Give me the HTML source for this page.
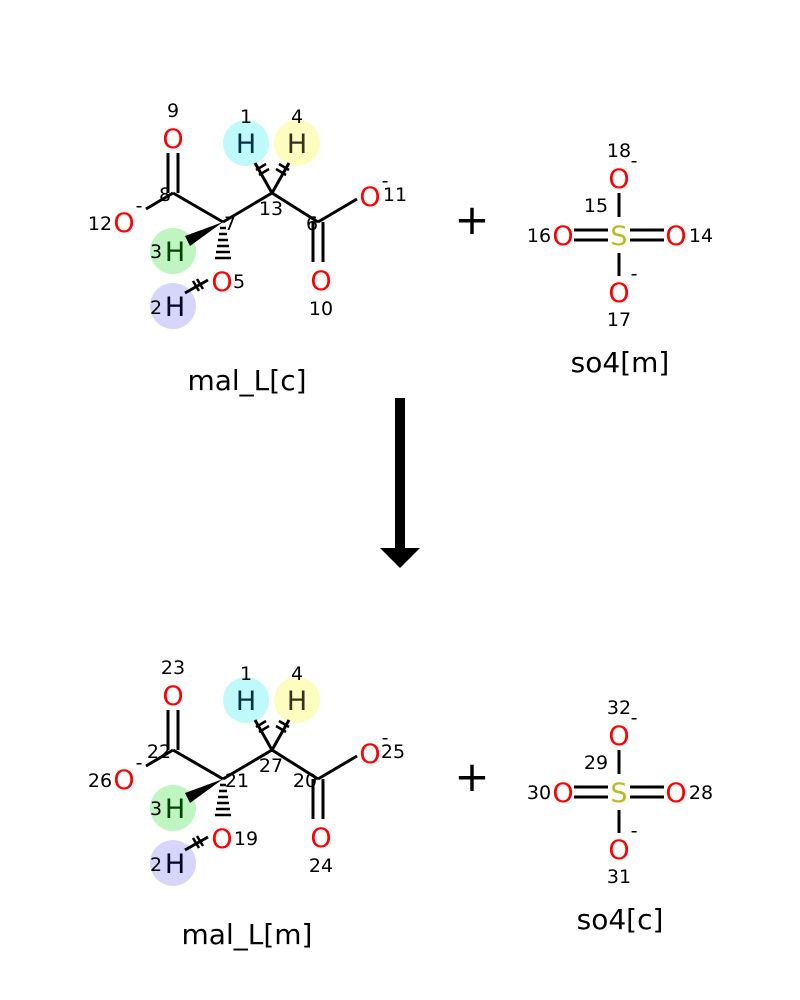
<!DOCTYPE html>
<html><head><meta charset="utf-8"><style>body{margin:0;background:#fff}svg{display:block}text{font-family:"DejaVu Sans","Liberation Sans",sans-serif}</style></head>
<body>
<svg width="800" height="1000" viewBox="0 0 800 1000" xmlns="http://www.w3.org/2000/svg">
<rect width="800" height="1000" fill="#fff"/>
<!-- TOP malate -->
<g>
<circle cx="246" cy="143" r="23" fill="#bff9fb"/>
<circle cx="297" cy="143" r="23" fill="#fdfdbf"/>
<circle cx="173" cy="251" r="23" fill="#bff5c0"/>
<circle cx="173" cy="306" r="23" fill="#d6d6fb"/>
<g stroke="#000" stroke-width="3" fill="none">
<line x1="173" y1="193" x2="223" y2="222"/>
<line x1="223" y1="222" x2="272" y2="193"/>
<line x1="272" y1="193" x2="318" y2="222"/>
<line x1="318" y1="222" x2="357" y2="199"/>
<line x1="168" y1="193" x2="168" y2="153"/><line x1="178" y1="193" x2="178" y2="153"/>
<line x1="313" y1="222" x2="313" y2="262"/><line x1="323" y1="222" x2="323" y2="262"/>
<line x1="173" y1="193" x2="146" y2="209"/>
<line x1="272" y1="193" x2="255" y2="163"/>
<line x1="272" y1="193" x2="289" y2="163"/>
<line x1="208" y1="280" x2="185" y2="293"/>
</g>
<g stroke="#000" stroke-width="2.5">
<line x1="256" y1="170" x2="266" y2="164"/><line x1="259" y1="175" x2="269" y2="169"/>
<line x1="279" y1="164" x2="289" y2="170"/><line x1="276" y1="169" x2="286" y2="175"/>
<line x1="193" y1="281" x2="199" y2="291"/><line x1="197" y1="279" x2="203" y2="289"/>
<line x1="220" y1="228" x2="226" y2="228"/><line x1="219" y1="234" x2="227" y2="234"/><line x1="218" y1="240" x2="228" y2="240"/><line x1="217" y1="246" x2="229" y2="246"/><line x1="216" y1="252" x2="230" y2="252"/><line x1="215" y1="258" x2="231" y2="258"/>
</g>
<polygon points="223,222 185,236 190,246" fill="#000"/>
<g font-size="27" fill="#f00" text-anchor="middle">
<text x="173" y="148">O</text><text x="124" y="232">O</text><text x="370" y="206">O</text><text x="321" y="290">O</text><text x="222" y="291">O</text>
</g>
<g font-size="27" text-anchor="middle">
<text x="246" y="153" fill="#034">H</text><text x="297" y="153" fill="#332">H</text><text x="175" y="261" fill="#040">H</text><text x="175" y="316" fill="#002">H</text>
</g>
<g font-size="19" fill="#000" text-anchor="middle">
<text x="173" y="117">9</text><text x="246" y="123">1</text><text x="297" y="123">4</text>
<text x="165" y="201">8</text><text x="230" y="230">7</text><text x="271" y="215">13</text><text x="312" y="230">6</text>
<text x="100" y="230">12</text><text x="395" y="201">11</text><text x="321" y="315">10</text><text x="239" y="288">5</text>
<text x="156" y="258">3</text><text x="156" y="314">2</text>
<text x="139" y="212">-</text><text x="385" y="187">-</text>
</g>
<text x="247" y="390" font-size="28" text-anchor="middle">mal_L[c]</text>
</g>
<!-- TOP so4 -->
<g>
<g stroke="#000" stroke-width="3">
<line x1="619" y1="193" x2="619" y2="217"/><line x1="619" y1="253" x2="619" y2="276"/>
<line x1="574" y1="230" x2="608" y2="230"/><line x1="574" y1="240" x2="608" y2="240"/>
<line x1="630" y1="230" x2="664" y2="230"/><line x1="630" y1="240" x2="664" y2="240"/>
</g>
<g font-size="27" text-anchor="middle" fill="#f00">
<text x="619" y="188">O</text><text x="619" y="302">O</text><text x="563" y="245">O</text><text x="676" y="245">O</text>
<text x="619" y="245" fill="#bb2">S</text>
</g>
<g font-size="19" text-anchor="middle">
<text x="619" y="157">18</text><text x="596" y="212">15</text><text x="539" y="242">16</text><text x="701" y="242">14</text><text x="619" y="326">17</text>
<text x="634" y="167">-</text><text x="634" y="280">-</text>
</g>
<text x="620" y="372" font-size="28" text-anchor="middle">so4[m]</text>
</g>
<text x="472" y="234" font-size="42" text-anchor="middle">+</text>
<!-- arrow -->
<rect x="395" y="398" width="10" height="152" fill="#000"/>
<polygon points="380,548 420,548 400,568" fill="#000"/>
<!-- BOTTOM malate -->
<g transform="translate(0,557)">
<circle cx="246" cy="143" r="23" fill="#bff9fb"/>
<circle cx="297" cy="143" r="23" fill="#fdfdbf"/>
<circle cx="173" cy="251" r="23" fill="#bff5c0"/>
<circle cx="173" cy="306" r="23" fill="#d6d6fb"/>
<g stroke="#000" stroke-width="3" fill="none">
<line x1="173" y1="193" x2="223" y2="222"/>
<line x1="223" y1="222" x2="272" y2="193"/>
<line x1="272" y1="193" x2="318" y2="222"/>
<line x1="318" y1="222" x2="357" y2="199"/>
<line x1="168" y1="193" x2="168" y2="153"/><line x1="178" y1="193" x2="178" y2="153"/>
<line x1="313" y1="222" x2="313" y2="262"/><line x1="323" y1="222" x2="323" y2="262"/>
<line x1="173" y1="193" x2="146" y2="209"/>
<line x1="272" y1="193" x2="255" y2="163"/>
<line x1="272" y1="193" x2="289" y2="163"/>
<line x1="208" y1="280" x2="185" y2="293"/>
</g>
<g stroke="#000" stroke-width="2.5">
<line x1="256" y1="170" x2="266" y2="164"/><line x1="259" y1="175" x2="269" y2="169"/>
<line x1="279" y1="164" x2="289" y2="170"/><line x1="276" y1="169" x2="286" y2="175"/>
<line x1="193" y1="281" x2="199" y2="291"/><line x1="197" y1="279" x2="203" y2="289"/>
<line x1="220" y1="228" x2="226" y2="228"/><line x1="219" y1="234" x2="227" y2="234"/><line x1="218" y1="240" x2="228" y2="240"/><line x1="217" y1="246" x2="229" y2="246"/><line x1="216" y1="252" x2="230" y2="252"/><line x1="215" y1="258" x2="231" y2="258"/>
</g>
<polygon points="223,222 185,236 190,246" fill="#000"/>
<g font-size="27" fill="#f00" text-anchor="middle">
<text x="173" y="148">O</text><text x="124" y="232">O</text><text x="370" y="206">O</text><text x="321" y="290">O</text><text x="222" y="291">O</text>
</g>
<g font-size="27" text-anchor="middle">
<text x="246" y="153" fill="#034">H</text><text x="297" y="153" fill="#332">H</text><text x="175" y="261" fill="#040">H</text><text x="175" y="316" fill="#002">H</text>
</g>
<g font-size="19" fill="#000" text-anchor="middle">
<text x="173" y="117">23</text><text x="246" y="123">1</text><text x="297" y="123">4</text>
<text x="159" y="201">22</text><text x="237" y="230">21</text><text x="271" y="215">27</text><text x="305" y="230">20</text>
<text x="100" y="230">26</text><text x="393" y="201">25</text><text x="321" y="315">24</text><text x="246" y="288">19</text>
<text x="156" y="258">3</text><text x="156" y="314">2</text>
<text x="139" y="212">-</text><text x="385" y="187">-</text>
</g>
<text x="247" y="387" font-size="28" text-anchor="middle">mal_L[m]</text>
</g>
<!-- BOTTOM so4 -->
<g transform="translate(0,557)">
<g stroke="#000" stroke-width="3">
<line x1="619" y1="193" x2="619" y2="217"/><line x1="619" y1="253" x2="619" y2="276"/>
<line x1="574" y1="230" x2="608" y2="230"/><line x1="574" y1="240" x2="608" y2="240"/>
<line x1="630" y1="230" x2="664" y2="230"/><line x1="630" y1="240" x2="664" y2="240"/>
</g>
<g font-size="27" text-anchor="middle" fill="#f00">
<text x="619" y="188">O</text><text x="619" y="302">O</text><text x="563" y="245">O</text><text x="676" y="245">O</text>
<text x="619" y="245" fill="#bb2">S</text>
</g>
<g font-size="19" text-anchor="middle">
<text x="619" y="157">32</text><text x="596" y="212">29</text><text x="539" y="242">30</text><text x="701" y="242">28</text><text x="619" y="326">31</text>
<text x="634" y="167">-</text><text x="634" y="280">-</text>
</g>
<text x="620" y="372" font-size="28" text-anchor="middle">so4[c]</text>
</g>
<text x="472" y="791" font-size="42" text-anchor="middle">+</text>
</svg>
</body></html>
